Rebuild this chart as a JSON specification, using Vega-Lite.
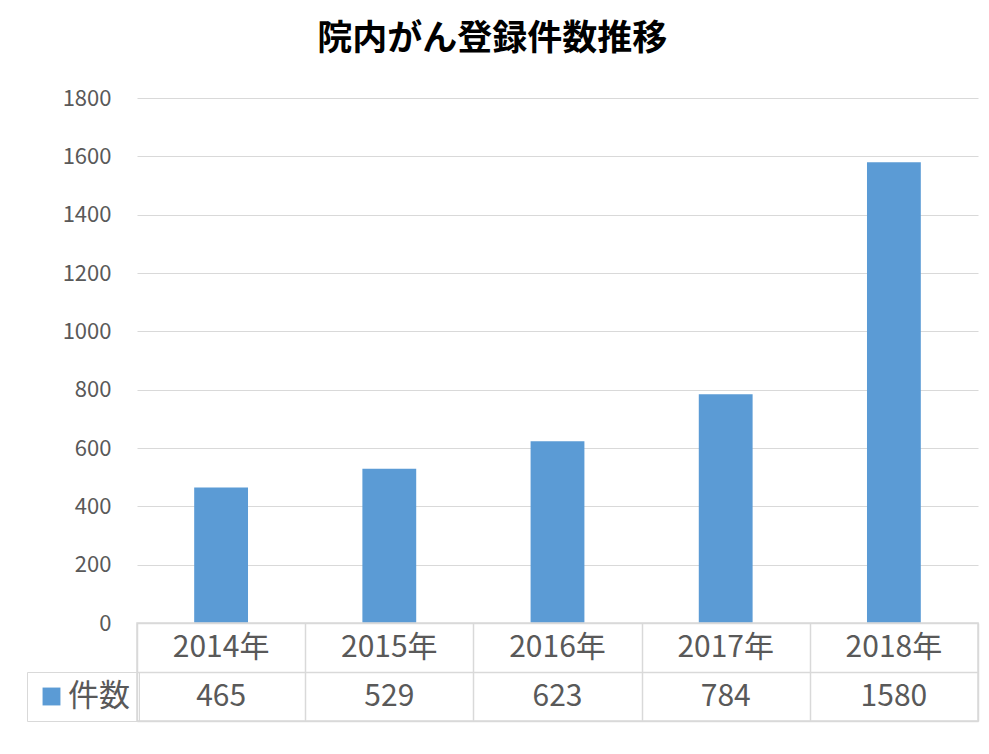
{
  "$schema": "https://vega.github.io/schema/vega-lite/v6.json",
  "padding": {"left": 25, "top": 22, "right": 13, "bottom": 33},
  "background": "white",
  "bounds": "flush",
  "title": {
    "text": "院内がん登録件数推移",
    "fontSize": 35,
    "fontWeight": "bold",
    "color": "#000000",
    "anchor": "middle",
    "dx": -10,
    "offset": 30
  },
  "config": {
    "font": "Noto Sans CJK JP"
  },
  "data": {
    "values": [
      {"year": "2014年", "count": 465},
      {"year": "2015年", "count": 529},
      {"year": "2016年", "count": 623},
      {"year": "2017年", "count": 784},
      {"year": "2018年", "count": 1580}
    ]
  },
  "resolve": {
    "scale": {"x": "independent", "y": "independent", "color": "independent"},
    "legend": {"color": "independent"}
  },
  "spacing": 0,
  "vconcat": [
    {
      "width": 841,
      "height": 525,
      "view": {"stroke": null},
      "mark": {"type": "bar", "color": "#5B9BD5"},
      "encoding": {
        "x": {
          "field": "year",
          "type": "nominal",
          "sort": null,
          "scale": {"paddingInner": 0.68, "paddingOuter": 0.34},
          "axis": null
        },
        "y": {
          "field": "count",
          "type": "quantitative",
          "scale": {"domain": [0, 1800], "nice": false},
          "axis": {
            "values": [0, 200, 400, 600, 800, 1000, 1200, 1400, 1600, 1800],
            "format": "d",
            "grid": true,
            "gridColor": "#d9d9d9",
            "gridWidth": 1.2,
            "domain": false,
            "ticks": false,
            "labelFontSize": 22,
            "labelColor": "#595959",
            "labelPadding": 26,
            "title": null
          }
        }
      }
    },
    {
      "width": 841,
      "height": 98,
      "view": {"stroke": "#d9d9d9", "strokeWidth": 1.5},
      "encoding": {
        "x": {
          "field": "year",
          "type": "nominal",
          "sort": null,
          "scale": {"paddingInner": 0, "paddingOuter": 0},
          "axis": {
            "grid": true,
            "gridColor": "#d9d9d9",
            "gridWidth": 1.5,
            "tickBand": "extent",
            "domain": false,
            "ticks": false,
            "labels": false,
            "title": null
          }
        }
      },
      "layer": [
        {
          "mark": {"type": "text", "fontSize": 30, "color": "#595959", "baseline": "middle"},
          "encoding": {
            "y": {
              "datum": "year",
              "type": "nominal",
              "scale": {"domain": ["year", "count"], "paddingInner": 0, "paddingOuter": 0},
              "axis": {
                "grid": true,
                "gridColor": "#d9d9d9",
                "gridWidth": 1.5,
                "tickBand": "extent",
                "domain": false,
                "ticks": false,
                "labels": false,
                "title": null
              }
            },
            "text": {"field": "year"}
          }
        },
        {
          "mark": {"type": "text", "fontSize": 30, "color": "#595959", "baseline": "middle"},
          "encoding": {
            "y": {"datum": "count", "type": "nominal"},
            "text": {"field": "count", "type": "quantitative"}
          }
        },
        {
          "mark": {"type": "square", "opacity": 0},
          "encoding": {
            "y": {"datum": "count", "type": "nominal"},
            "color": {
              "datum": "件数",
              "type": "nominal",
              "scale": {"range": ["#5B9BD5"]},
              "legend": {
                "orient": "none",
                "legendX": -110,
                "legendY": 49,
                "title": null,
                "symbolType": "square",
                "symbolSize": 320,
                "symbolOpacity": 1,
                "symbolStrokeWidth": 0,
                "labelFontSize": 31,
                "labelColor": "#595959",
                "labelOffset": 1,
                "strokeColor": "#d9d9d9",
                "padding": 9
              }
            }
          }
        }
      ]
    }
  ]
}
